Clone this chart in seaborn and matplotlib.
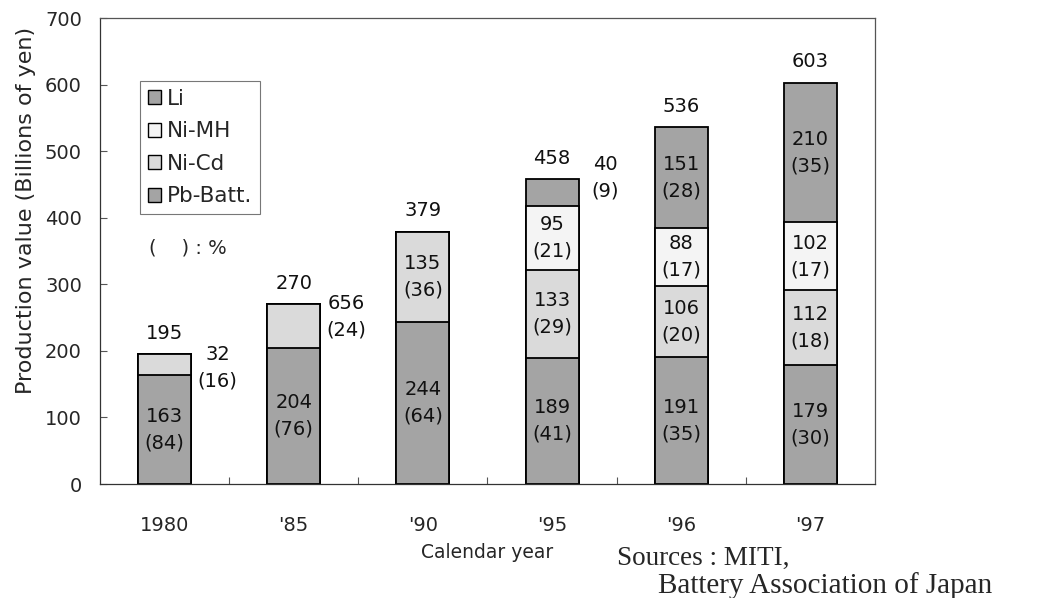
import matplotlib
matplotlib.use("Agg")
import matplotlib.pyplot as plt
import matplotlib.ticker as mticker
from matplotlib.patches import Patch
import numpy as np
import seaborn as sns

# Production value of secondary batteries in Japan (billions of yen)
years = ["1980", "'85", "'90", "'95", "'96", "'97"]
pb_batt = [163, 204, 244, 189, 191, 179]
ni_cd = [32, 66, 135, 133, 106, 112]
ni_mh = [0, 0, 0, 95, 88, 102]
li = [0, 0, 0, 40, 151, 210]
totals = [195, 270, 379, 458, 536, 603]

# Shares of the yearly total (%)
pb_share = [84, 76, 64, 41, 35, 30]
ni_cd_share = [16, 24, 36, 29, 20, 18]
ni_mh_share = [None, None, None, 21, 17, 17]
li_share = [None, None, None, 9, 28, 35]

# Values as printed on the chart
pb_text = ["163", "204", "244", "189", "191", "179"]
ni_cd_text = ["32", "656", "135", "133", "106", "112"]
ni_mh_text = ["", "", "", "95", "88", "102"]
li_text = ["", "", "", "40", "151", "210"]

series_names = ["Li", "Ni-MH", "Ni-Cd", "Pb-Batt."]

sns.set_theme(style="white")
plt.rcParams["font.family"] = ["DejaVu Sans"]

DARK = "#a4a4a4"
LIGHT = "#dadada"
PALE = "#f4f4f4"
colors = {"Li": DARK, "Ni-MH": PALE, "Ni-Cd": LIGHT, "Pb-Batt.": DARK}

fig = plt.figure(figsize=(10.51, 5.98), dpi=100)
ax = fig.add_axes([100 / 1051, 1 - 484 / 598, 775 / 1051, 466 / 598])

# cumulative tops of each layer
c_pb = np.array(pb_batt, dtype=float)
c_nicd = c_pb + np.array(ni_cd)
c_nimh = c_nicd + np.array(ni_mh)
c_total = np.array(totals, dtype=float)

bar_w = 0.41
bar_kw = dict(width=bar_w, edgecolor="black", linewidth=1.3,
              saturation=1, errorbar=None, ax=ax)
for tops, name in [(c_total, "Li"), (c_nimh, "Ni-MH"),
                   (c_nicd, "Ni-Cd"), (c_pb, "Pb-Batt.")]:
    sns.barplot(x=years, y=tops, color=colors[name], **bar_kw)

lab_kw = dict(ha="center", va="center", fontsize=14,
              linespacing=1.5, color="#111111")

layers = {
    "Pb-Batt.": (np.zeros(len(years)), c_pb, pb_text, pb_share),
    "Ni-Cd": (c_pb, c_nicd, ni_cd_text, ni_cd_share),
    "Ni-MH": (c_nicd, c_nimh, ni_mh_text, ni_mh_share),
    "Li": (c_nimh, c_total, li_text, li_share),
}
# segments too thin to hold their label: label goes to the right of the bar,
# lifted by the given number of points
beside = {("Ni-Cd", 0): -2, ("Ni-Cd", 1): 7, ("Li", 3): 11}

for name, (lo, hi, texts, shares) in layers.items():
    for i in range(len(years)):
        if hi[i] - lo[i] <= 0 or not texts[i]:
            continue
        label = f"{texts[i]}\n({shares[i]})"
        mid = (lo[i] + hi[i]) / 2
        if (name, i) in beside:
            ax.annotate(label, xy=(i + 0.41, mid),
                        xytext=(0, beside[(name, i)]),
                        textcoords="offset points", **lab_kw)
        else:
            ax.text(i, mid, label, **lab_kw)

for i in range(len(years)):
    ax.annotate(f"{totals[i]}", xy=(i, totals[i]), xytext=(0, 15),
                textcoords="offset points", **lab_kw)

# axes styling
ax.set_xlim(-0.5, len(years) - 0.5)
ax.set_ylim(0, 700)
ax.yaxis.set_major_locator(mticker.MultipleLocator(100))
ax.xaxis.set_minor_locator(mticker.FixedLocator(np.arange(0.5, len(years) - 0.5, 1)))
ax.tick_params(axis="y", which="major", direction="in", length=5, width=0.8,
               color="#555555", left=True, pad=13, labelsize=14)
ax.tick_params(axis="x", which="major", length=0, pad=23, labelsize=14)
ax.tick_params(axis="x", which="minor", direction="in", length=5, width=0.8,
               color="#555555", bottom=True)
for sp in ax.spines.values():
    sp.set_visible(True)
    sp.set_color("#555555")
    sp.set_linewidth(0.9)
ax.spines["left"].set_color("#333333")
ax.spines["bottom"].set_color("#333333")

ax.set_xlabel("Calendar year", fontsize=13.5, labelpad=6)
ax.set_ylabel("Production value (Billions of yen)", fontsize=16)
ax.yaxis.set_label_coords(-0.083, 0.588)

handles = [Patch(facecolor=colors[n], edgecolor="black", linewidth=1.0, label=n)
           for n in series_names]
leg = ax.legend(handles=handles, loc="upper left", bbox_to_anchor=(0.052, 0.864),
                borderaxespad=0, fontsize=15.5, handlelength=0.6, handleheight=0.6,
                handletextpad=0.3, labelspacing=0.58, borderpad=0.35,
                fancybox=False, framealpha=1, edgecolor="#777777")
leg.get_frame().set_linewidth(0.8)

ax.text(0.063, 0.506, "(    ) : %", transform=ax.transAxes, fontsize=14,
        ha="left", va="center")

src_font = ["Liberation Serif", "DejaVu Serif"]
fig.text(617 / 1051, 1 - 565 / 598, "Sources : MITI,", family=src_font,
         fontsize=19.5, ha="left", va="baseline")
fig.text(658 / 1051, 1 - 593 / 598, "Battery Association of Japan",
         family=src_font, fontsize=21, ha="left", va="baseline")

fig.savefig("out.png", dpi=100)
